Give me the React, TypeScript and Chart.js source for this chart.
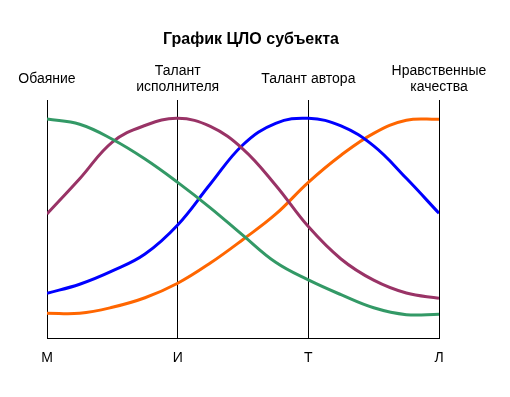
import React, { useEffect, useRef } from "react";
import { Chart, registerables } from "chart.js";

Chart.register(...registerables);

// Category labels at positions 0..3 on the horizontal axis
const bottomLabels = ["М", "И", "Т", "Л"];
const topLabels: (string | string[])[] = [
  "Обаяние",
  ["Талант", "исполнителя"],
  "Талант автора",
  ["Нравственные", "качества"],
];
const samplePositions = [0, 0.25, 0.5, 0.75, 1, 1.25, 1.5, 1.75, 2, 2.25, 2.5, 2.75, 3];
// Curve values (0–100 scale), read at the sample positions
const charmValues = [92.0, 89.8, 83.5, 75.2, 65.4, 54.7, 43.1, 31.8, 24.4, 18.2, 12.7, 9.8, 10.0];
const performerValues = [52.1, 66.9, 82.3, 89.3, 92.3, 88.9, 79.4, 64.2, 46.8, 33.2, 24.3, 18.9, 16.7];
const authorValues = [18.8, 22.6, 28.2, 35.3, 47.5, 64.7, 81.2, 90.2, 92.3, 89.1, 80.7, 67.1, 52.4];
const moralValues = [10.4, 10.4, 12.9, 16.9, 23.0, 31.5, 41.4, 52.0, 65.4, 76.8, 86.0, 91.5, 91.9];
const titleText = "График ЦЛО субъекта";

const FONT = "'Liberation Sans', Arial, sans-serif";

export default function App() {
  const ref = useRef<HTMLCanvasElement | null>(null);
  useEffect(() => {
    if (!ref.current) return;
    const mk = (label: string, values: number[], color: string) => ({
      label,
      data: values.map((v, i) => ({ x: samplePositions[i], y: v })),
      borderColor: color,
      backgroundColor: color,
      borderWidth: 3,
      pointRadius: 0,
      tension: 0.4,
      fill: false,
      xAxisID: "x",
      yAxisID: "y",
    });
    const tickFont = { family: FONT, size: 14, lineHeight: 16 / 14 };
    const chart = new Chart(ref.current, {
      type: "line",
      data: {
        datasets: [
          mk("Обаяние", charmValues, "#339966"),
          mk("Талант исполнителя", performerValues, "#993366"),
          mk("Талант автора", authorValues, "#0000FF"),
          mk("Нравственные качества", moralValues, "#FF6600"),
        ],
      },
      options: {
        responsive: false,
        animation: false,
        layout: { padding: { left: 0, right: 8, top: 0, bottom: 31 } },
        plugins: {
          legend: { display: false },
          tooltip: { enabled: false },
          title: {
            display: true,
            text: titleText,
            color: "#000",
            font: { family: FONT, size: 16, weight: "bold", lineHeight: 1.2 },
            padding: { top: 30.4, bottom: 5.4 },
          },
        },
        scales: {
          x: {
            type: "linear",
            position: "bottom",
            min: 0,
            max: 3,
            grid: { display: true, color: "#000", lineWidth: 1, drawTicks: false },
            border: { display: true, color: "#000", width: 1 },
            ticks: {
              stepSize: 1,
              color: "#000",
              font: tickFont,
              padding: 12,
              maxRotation: 0,
              autoSkip: false,
              callback: (v: any) => bottomLabels[Number(v)] ?? "",
            },
            afterFit: (s: any) => {
              s.height = 28;
            },
          },
          xTop: {
            type: "linear",
            position: "top",
            min: 0,
            max: 3,
            grid: { display: false, drawTicks: false },
            border: { display: false },
            ticks: {
              stepSize: 1,
              color: "#000",
              font: tickFont,
              padding: 13,
              maxRotation: 0,
              autoSkip: false,
              crossAlign: "center",
              callback: (v: any) => topLabels[Number(v)] ?? "",
            },
            afterFit: (s: any) => {
              s.height = 45;
            },
          },
          y: {
            position: "left",
            min: 0,
            max: 100,
            grid: { display: false, drawTicks: false },
            border: { display: false },
            ticks: { display: false },
            afterFit: (s: any) => {
              s.width = 47;
            },
          },
          yRight: {
            position: "right",
            min: 0,
            max: 100,
            grid: { display: false, drawTicks: false },
            border: { display: false },
            ticks: { display: false },
            afterFit: (s: any) => {
              s.width = 63;
            },
          },
        },
      } as any,
    });
    return () => chart.destroy();
  }, []);
  return (
    <div style={{ position: "absolute", left: 0, top: 0, width: 510, height: 397, background: "#fff" }}>
      <canvas ref={ref} width={510} height={397} />
    </div>
  );
}
